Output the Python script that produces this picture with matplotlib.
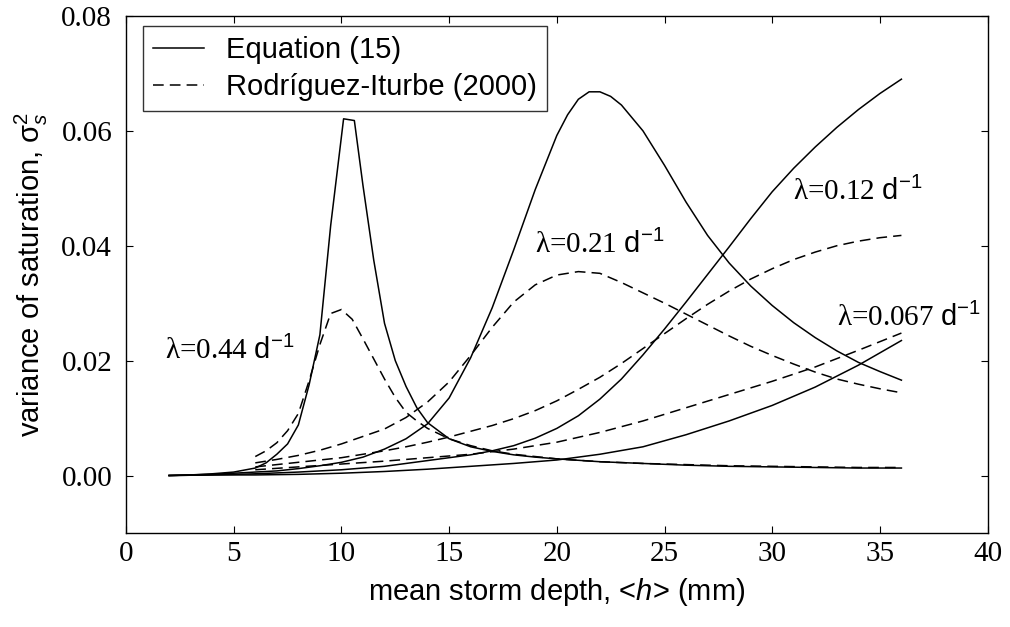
import matplotlib
matplotlib.use("Agg")
import matplotlib.pyplot as plt
from matplotlib.ticker import MultipleLocator, FormatStrFormatter

plt.rcParams['font.family'] = ['Liberation Sans', 'DejaVu Sans']
plt.rcParams['mathtext.fontset'] = 'custom'
plt.rcParams['mathtext.rm'] = 'Liberation Sans'
plt.rcParams['mathtext.it'] = 'Liberation Sans:italic'
plt.rcParams['mathtext.sf'] = 'Liberation Sans'

# lambda = 0.44 1/d
x44_eq = [2, 3, 4, 5, 6, 6.5, 7, 7.5, 8, 8.5, 9, 9.5, 10.1, 10.6, 11, 11.5, 12, 12.5,
          13, 13.5, 14, 15, 16, 17, 18, 19, 20, 22, 24, 26, 28, 30, 32, 34, 36]
y44_eq = [0.0, 0.0001, 0.0003, 0.0006, 0.0013, 0.0022, 0.0037, 0.0055, 0.0088, 0.0158,
          0.0245, 0.0435, 0.0621, 0.0618, 0.0505, 0.0375, 0.0265, 0.0200, 0.0155, 0.0118,
          0.0092, 0.0064, 0.0050, 0.0042, 0.0036, 0.0032, 0.0029, 0.0024, 0.0021, 0.0018,
          0.0016, 0.0015, 0.0014, 0.0013, 0.0013]
x44_ri = [6, 6.5, 7, 7.5, 8, 8.5, 9, 9.5, 10, 10.5, 11, 11.5, 12, 12.5, 13, 13.5, 14, 15,
          16, 17, 18, 20, 22, 24, 26, 28, 30, 32, 34, 36]
y44_ri = [0.0033, 0.0043, 0.0057, 0.0078, 0.0108, 0.0165, 0.0228, 0.0282, 0.0289, 0.0272,
          0.0238, 0.0203, 0.0168, 0.0136, 0.0110, 0.0095, 0.0082, 0.0064, 0.0052, 0.0043,
          0.0037, 0.0029, 0.0024, 0.0021, 0.0019, 0.0017, 0.0016, 0.0015, 0.0014, 0.0014]

# lambda = 0.21 1/d
x21_eq = [2, 3, 4, 5, 6, 7, 8, 9, 10, 11, 12, 13, 14, 15, 16, 17, 18, 19, 20, 20.5, 21,
          21.5, 22, 22.5, 23, 24, 25, 26, 27, 28, 29, 30, 31, 32, 33, 34, 35, 36]
y21_eq = [0.0, 0.0001, 0.0002, 0.0004, 0.0006, 0.0008, 0.0012, 0.0017, 0.0023, 0.0032,
          0.0046, 0.0064, 0.0090, 0.0135, 0.0205, 0.0292, 0.0393, 0.0498, 0.0592, 0.0628,
          0.0655, 0.0668, 0.0668, 0.0660, 0.0645, 0.0600, 0.0540, 0.0476, 0.0418, 0.0370,
          0.0330, 0.0296, 0.0266, 0.0240, 0.0217, 0.0197, 0.0181, 0.0166]
x21_ri = [6, 7, 8, 9, 10, 11, 12, 13, 14, 15, 16, 17, 18, 19, 20, 21, 22, 23, 24, 25, 26,
          27, 28, 29, 30, 31, 32, 33, 34, 35, 36]
y21_ri = [0.0022, 0.0028, 0.0035, 0.0044, 0.0055, 0.0068, 0.0081, 0.0101, 0.0128, 0.0163,
          0.0209, 0.0258, 0.0302, 0.0332, 0.0349, 0.0355, 0.0352, 0.0336, 0.0318, 0.0300,
          0.0281, 0.0262, 0.0243, 0.0225, 0.0209, 0.0194, 0.0180, 0.0168, 0.0159, 0.0151,
          0.0144]

# lambda = 0.12 1/d
x12_eq = [2, 4, 6, 8, 10, 12, 14, 15, 16, 17, 18, 19, 20, 21, 22, 23, 24, 25, 26, 27, 28,
          29, 30, 31, 32, 33, 34, 35, 36]
y12_eq = [0.0, 0.0001, 0.0003, 0.0006, 0.0010, 0.0016, 0.0026, 0.0031, 0.0036, 0.0043,
          0.0052, 0.0065, 0.0082, 0.0104, 0.0133, 0.0168, 0.0210, 0.0255, 0.0302, 0.0350,
          0.0398, 0.0447, 0.0494, 0.0535, 0.0572, 0.0606, 0.0637, 0.0665, 0.0690]
x12_ri = [6, 8, 10, 12, 13, 14, 15, 16, 17, 18, 19, 20, 21, 22, 23, 24, 25, 26, 27, 28, 29,
          30, 31, 32, 33, 34, 35, 36]
y12_ri = [0.0015, 0.0023, 0.0031, 0.0043, 0.0050, 0.0058, 0.0067, 0.0077, 0.0087, 0.0099,
          0.0113, 0.0130, 0.0150, 0.0171, 0.0195, 0.0221, 0.0247, 0.0273, 0.0298, 0.0321,
          0.0342, 0.0360, 0.0376, 0.0389, 0.0400, 0.0408, 0.0414, 0.0418]

# lambda = 0.067 1/d
x067_eq = [2, 4, 6, 8, 10, 12, 14, 16, 18, 20, 22, 24, 26, 28, 30, 32, 34, 36]
y067_eq = [0.0, 0.0001, 0.0001, 0.0002, 0.0004, 0.0007, 0.0011, 0.0016, 0.0021, 0.0027,
           0.0037, 0.0050, 0.0071, 0.0095, 0.0122, 0.0154, 0.0192, 0.0235]
x067_ri = [6, 8, 10, 12, 14, 16, 18, 20, 22, 24, 26, 28, 30, 32, 34, 36]
y067_ri = [0.0010, 0.0015, 0.0020, 0.0025, 0.0031, 0.0037, 0.0046, 0.0058, 0.0075, 0.0095,
           0.0118, 0.0141, 0.0164, 0.0189, 0.0218, 0.0248]

labels = [r"λ=0.44 $\mathrm{d}^{-1}$", r"λ=0.21 $\mathrm{d}^{-1}$",
          r"λ=0.12 $\mathrm{d}^{-1}$", r"λ=0.067 $\mathrm{d}^{-1}$"]
label_pos = [(1.8, 0.0217), (19.0, 0.0403), (30.95, 0.0494), (33.0, 0.0276)]

fig = plt.figure(figsize=(10.1, 6.27), dpi=100)
ax = fig.add_axes([0.1248, 0.150, 0.853, 0.8245])

lw = 1.1
dash = (0, (7, 4))
ax.plot(x44_eq, y44_eq, color='black', lw=lw, label='Equation (15)')
ax.plot(x44_ri, y44_ri, color='black', lw=lw, ls=dash, label='Rodríguez-Iturbe (2000)')
for xs, ys in [(x21_eq, y21_eq), (x12_eq, y12_eq), (x067_eq, y067_eq)]:
    ax.plot(xs, ys, color='black', lw=lw)
for xs, ys in [(x21_ri, y21_ri), (x12_ri, y12_ri), (x067_ri, y067_ri)]:
    ax.plot(xs, ys, color='black', lw=lw, ls=dash)

for txt, (tx, ty) in zip(labels, label_pos):
    ax.text(tx, ty, txt, fontsize=21, family='Liberation Serif', va='center', ha='left')

ax.set_xlim(0, 40)
ax.set_ylim(-0.01, 0.08)
ax.xaxis.set_major_locator(MultipleLocator(5))
ax.yaxis.set_major_locator(MultipleLocator(0.02))
ax.yaxis.set_major_formatter(FormatStrFormatter('%.2f'))
ax.tick_params(direction='in', top=True, right=True, length=5, width=0.8)
ax.tick_params(axis='x', pad=6)
ax.tick_params(axis='y', pad=10)
for lab in ax.get_xticklabels() + ax.get_yticklabels():
    lab.set_fontfamily('Liberation Serif')
    lab.set_fontsize(21)
for sp in ax.spines.values():
    sp.set_linewidth(1.0)

ax.set_xlabel(r"mean storm depth, <$h$> (mm)", fontsize=21, labelpad=6)
ax.set_ylabel(r"variance of saturation, $\mathrm{\sigma}_s^{\mathrm{2}}$", fontsize=21, labelpad=8)

leg = ax.legend(loc='upper left', bbox_to_anchor=(0.0197, 0.9807), borderaxespad=0,
                fontsize=21, frameon=True, fancybox=False, handlelength=1.75,
                handletextpad=0.75, labelspacing=0.3, borderpad=0.35)
leg.get_frame().set_edgecolor('black')
leg.get_frame().set_linewidth(1.0)

fig.savefig('out.png', dpi=100)
